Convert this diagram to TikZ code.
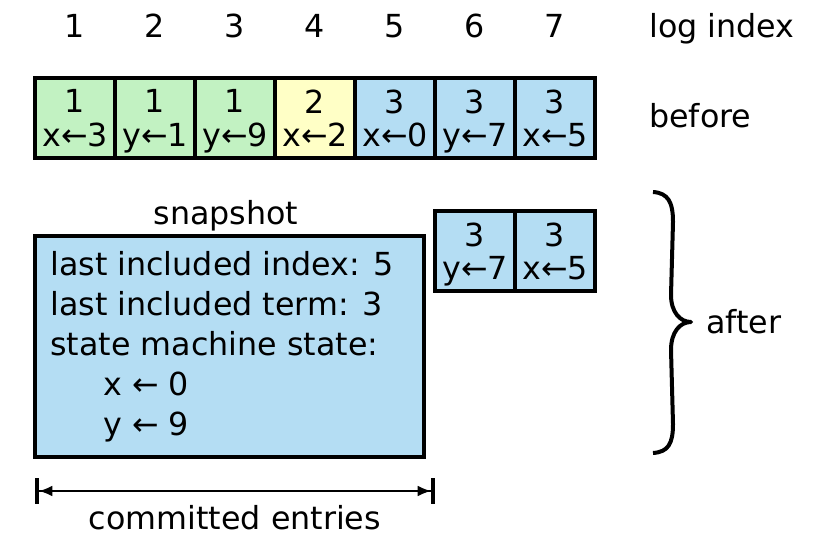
\documentclass[tikz,border=0pt]{standalone}
\usepackage{fontspec}
\setmainfont{DejaVu Sans}
\usetikzlibrary{arrows.meta}
\definecolor{termgreen}{HTML}{C2F2C2}
\definecolor{termyellow}{HTML}{FFFFC6}
\definecolor{termblue}{HTML}{B4DDF3}
\begin{document}
\begin{tikzpicture}[x=0.75pt,y=-0.75pt,
    txt/.style={font=\fontsize{23.8}{30}\selectfont,inner sep=0pt},
    entry/.style={draw,line width=2.6pt,minimum width=60pt,minimum height=60pt,
      inner sep=0pt,align=center,font=\fontsize{23.8}{25}\selectfont}]
    \useasboundingbox (0,0) rectangle (813,538);
    % log indices
    \foreach \k in {1,...,7}
      \node[txt,anchor=base] (idx\k) at ({75+80*(\k-1)},38) {\k};
    \node[txt,anchor=base west] (logindex) at (649,38) {log index};
    % log before compaction
    \foreach \t/\c/\col [count=\k] in {1/x←3/termgreen,1/y←1/termgreen,1/y←9/termgreen,
        2/x←2/termyellow,3/x←0/termblue,3/y←7/termblue,3/x←5/termblue}
      \node[entry,fill=\col] (old\k) at ({75+80*(\k-1)},118) {\t\\\smash{\c}};
    \node[txt,anchor=base west] (before) at (649,128) {before};
    % log after compaction
    \node[entry,fill=termblue] (new6) at (475,251) {3\\\smash{y←7}};
    \node[entry,fill=termblue] (new7) at (555,251) {3\\\smash{x←5}};
    \node[draw,line width=2.6pt,fill=termblue,minimum width=291.75pt,minimum height=165.75pt]
      (snap) at (229.5,346.5) {};
    \node[txt,anchor=base] (snaptitle) at (226,225) {snapshot};
    \node[txt,anchor=north west,align=left] (snaptext) at (50,251)
      {last included index: 5\\last included term: 3\\state machine state:\\
       \hspace{39.75pt}x ← 0\\\hspace{39.75pt}y ← 9};
    % brace
    \draw[line width=3pt,line join=round] (653,192) .. controls (668,193) and (673,202) .. (673,222)
      -- (671,295) .. controls (671,312) and (680,322) .. (691,322) coordinate (tip)
      .. controls (680,322) and (671,332) .. (671,350)
      -- (673,424) .. controls (673,444) and (668,452) .. (653,453);
    \node[txt,anchor=base west] (after) at (706,333) {after};
    % committed entries
    \coordinate (cl) at (35,491);
    \coordinate (cr) at (435,491);
    \draw[line width=1.1pt,{Bar[width=19pt,line width=3pt]Latex[length=10pt,width=8pt]}-{Latex[length=10pt,width=8pt]Bar[width=19pt,line width=3pt]}]
      (cl) -- (cr);
    \node[txt,anchor=base] (committed) at (235,529) {committed entries};
\end{tikzpicture}
\end{document}
